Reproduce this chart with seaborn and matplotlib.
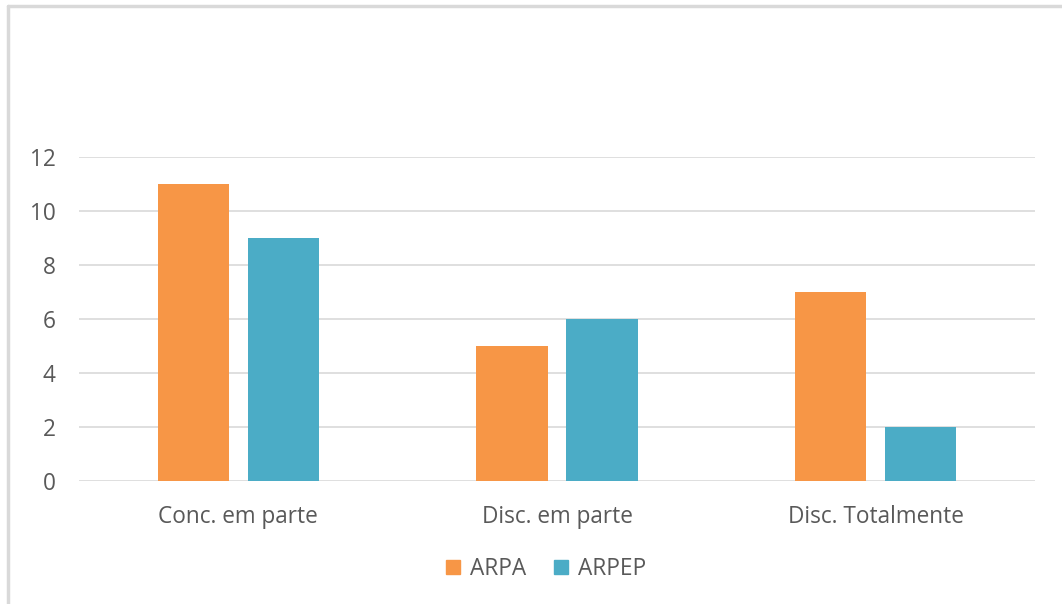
import pandas as pd
import matplotlib.pyplot as plt
import seaborn as sns
from matplotlib.lines import Line2D

categorias = ['Conc. em parte', 'Disc. em parte', 'Disc. Totalmente']
arpa = [11, 5, 7]
arpep = [9, 6, 2]
series = ['ARPA', 'ARPEP']
cores = ['#F79646', '#4BACC6']

dados = pd.DataFrame({
    'categoria': categorias * 2,
    'valor': arpa + arpep,
    'serie': [series[0]] * 3 + [series[1]] * 3,
})

sns.set_style('white')
plt.rcParams['font.family'] = ['Open Sans', 'DejaVu Sans']

fig = plt.figure(figsize=(10.62, 6.04), dpi=100)
ax = fig.add_axes([0.0744, 0.2036, 0.9002, 0.5364])

sns.barplot(data=dados, x='categoria', y='valor', hue='serie', order=categorias,
            palette=cores, width=0.565, gap=0.21, saturation=1, linewidth=0,
            ax=ax, legend=False)

ax.set_ylim(0, 12)
ax.set_xlim(-0.5, 2.5)
ax.set_yticks(range(0, 13, 2))
ax.yaxis.grid(True, color='#D9D9D9', linewidth=1.2)
ax.set_axisbelow(True)
for s in ax.spines.values():
    s.set_visible(False)
ax.tick_params(axis='both', length=0, labelsize=16.3, labelcolor='#595959')
ax.tick_params(axis='x', pad=17)
ax.tick_params(axis='y', pad=17)
ax.set_xlabel('')
ax.set_ylabel('')

# legenda embaixo
handles = [Line2D([], [], marker='s', linestyle='', markersize=10, color=c) for c in cores]
fig.legend(handles, series, loc='center', bbox_to_anchor=(0.513, 0.058), ncol=2,
           frameon=False, fontsize=16.3, labelcolor='#595959', handletextpad=0.3,
           columnspacing=1.1, handlelength=0.9)

# borda do gráfico
fig.add_artist(Line2D([0.0075, 0.0075], [0, 0.99], color='#D9D9D9', linewidth=2.5))
fig.add_artist(Line2D([0.0075, 1], [0.99, 0.99], color='#D9D9D9', linewidth=2.5))

fig.savefig('out.png', dpi=100)
